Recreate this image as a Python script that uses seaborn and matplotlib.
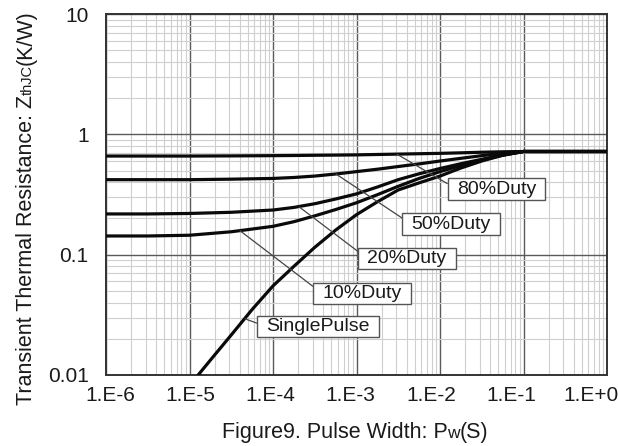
import numpy as np
import pandas as pd
import matplotlib
matplotlib.use("Agg")
import matplotlib.pyplot as plt
import seaborn as sns
from matplotlib.ticker import FixedLocator, LogLocator, NullFormatter
from matplotlib.transforms import ScaledTranslation
from matplotlib.path import Path

# ---------------- data ----------------
pulse_width = [1e-6, 3.16e-6, 1e-5, 3.16e-5, 1e-4, 1.78e-4, 3.16e-4, 5.62e-4,
               1e-3, 1.78e-3, 3.16e-3, 5.62e-3, 1e-2, 1.78e-2, 3.16e-2, 5.62e-2,
               1e-1, 3.16e-1, 1.0]
duty80 = [0.66, 0.66, 0.66, 0.662, 0.665, 0.667, 0.67, 0.672, 0.675, 0.68, 0.685,
          0.69, 0.695, 0.702, 0.71, 0.716, 0.72, 0.72, 0.72]
duty50 = [0.42, 0.42, 0.42, 0.424, 0.43, 0.438, 0.45, 0.468, 0.49, 0.513, 0.54,
          0.568, 0.60, 0.632, 0.665, 0.697, 0.72, 0.72, 0.72]
duty20 = [0.218, 0.218, 0.22, 0.225, 0.235, 0.247, 0.265, 0.29, 0.32, 0.365, 0.42,
          0.47, 0.52, 0.57, 0.62, 0.675, 0.72, 0.72, 0.72]
duty10 = [0.143, 0.143, 0.145, 0.155, 0.172, 0.188, 0.21, 0.237, 0.27, 0.315, 0.37,
          0.43, 0.49, 0.55, 0.61, 0.67, 0.72, 0.72, 0.72]
single_width = [1.27e-5, 1.78e-5, 3.16e-5, 5.62e-5, 1e-4, 1.78e-4, 3.16e-4, 5.62e-4,
                1e-3, 1.78e-3, 3.16e-3, 5.62e-3, 1e-2, 1.78e-2, 3.16e-2, 5.62e-2,
                1e-1, 3.16e-1, 1.0]
single_pulse = [0.01, 0.0133, 0.0215, 0.035, 0.055, 0.08, 0.115, 0.16, 0.215, 0.275,
                0.345, 0.395, 0.45, 0.525, 0.60, 0.67, 0.72, 0.72, 0.72]

series_names = ["80%Duty", "50%Duty", "20%Duty", "10%Duty", "SinglePulse"]

x_tick_values = [1e-6, 1e-5, 1e-4, 1e-3, 1e-2, 1e-1, 1.0]
x_tick_labels = ["1.E-6", "1.E-5", "1.E-4", "1.E-3", "1.E-2", "1.E-1", "1.E+0"]
y_tick_values = [0.01, 0.1, 1, 10]
y_tick_labels = ["0.01", "0.1", "1", "10"]

# ---------------- style ----------------
sns.set_style("white")
plt.rcParams['font.family'] = ['Liberation Sans', 'DejaVu Sans']
TXT = '#1a1a1a'

fig = plt.figure(figsize=(6.18, 4.46), dpi=100)
ax = fig.add_axes([106 / 618, 1 - 375 / 446, 501 / 618, 361 / 446])

frames = []
for name, xs, ys in zip(series_names,
                        [pulse_width] * 4 + [single_width],
                        [duty80, duty50, duty20, duty10, single_pulse]):
    frames.append(pd.DataFrame({"pw": xs, "z": ys, "series": name}))
df = pd.concat(frames, ignore_index=True)

sns.lineplot(data=df, x="pw", y="z", hue="series", hue_order=series_names,
             palette={n: '#0a0a0a' for n in series_names}, estimator=None,
             sort=True, legend=False, linewidth=2.3, ax=ax, zorder=3)

ax.set_xscale('log')
ax.set_yscale('log')
ax.set_xlim(1e-6, 1.0)
ax.set_ylim(0.01, 10)

ax.xaxis.set_major_locator(FixedLocator(x_tick_values))
ax.yaxis.set_major_locator(FixedLocator(y_tick_values))
ax.xaxis.set_minor_locator(LogLocator(base=10, subs=np.arange(2, 10), numticks=20))
ax.yaxis.set_minor_locator(LogLocator(base=10, subs=np.arange(2, 10), numticks=20))
ax.xaxis.set_minor_formatter(NullFormatter())
ax.yaxis.set_minor_formatter(NullFormatter())
ax.set_xticklabels(x_tick_labels)
ax.set_yticklabels(y_tick_labels)
ax.tick_params(axis='both', which='both', length=0, labelsize=15, colors=TXT)
ax.tick_params(axis='x', pad=8)
ax.tick_params(axis='y', pad=12.5)

ax.grid(which='minor', color='#cfcfcf', linewidth=0.8, zorder=0)
ax.grid(which='major', color='#5a5a5a', linewidth=1.0, zorder=1)
ax.set_axisbelow(True)
for sp in ax.spines.values():
    sp.set_color('#333333')
    sp.set_linewidth(1.4)
ax.set_xlabel("")
ax.set_ylabel("")

# tick labels in the reference drift slightly left of their grid lines
label_shift_px = [4.5, 1.1, -2.3, -5.7, -9.1, -12.5, -15.9]
fig.canvas.draw()
for lab, dx in zip(ax.get_xticklabels(), label_shift_px):
    lab.set_transform(lab.get_transform() + ScaledTranslation(dx / 100, 0, fig.dpi_scale_trans))


# ---------------- callouts ----------------
def label_box(x0, y0, width, height, mutation_size):
    px = 0.47 * mutation_size
    py = 0.12 * mutation_size
    verts = [(x0 - px, y0 - py), (x0 + width + px, y0 - py),
             (x0 + width + px, y0 + height + py), (x0 - px, y0 + height + py),
             (x0 - px, y0 - py)]
    codes = [Path.MOVETO, Path.LINETO, Path.LINETO, Path.LINETO, Path.CLOSEPOLY]
    return Path(verts, codes)


callouts = [  # (label, point on curve, box centre)
    ("80%Duty", (3.05e-3, 0.684), (0.0475, 0.350)),
    ("50%Duty", (5.68e-4, 0.468), (0.01355, 0.179)),
    ("20%Duty", (2.05e-4, 0.250), (4.03e-3, 0.0927)),
    ("10%Duty", (4.03e-5, 0.158), (1.164e-3, 0.0475)),
    ("SinglePulse", (4.62e-5, 0.0293), (3.46e-4, 0.02526)),
]
for text, xy, xytext in callouts:
    ax.annotate(text, xy=xy, xytext=xytext, xycoords='data', textcoords='data',
                ha='center', va='center', fontsize=14, color=TXT, zorder=5,
                bbox=dict(boxstyle=label_box, fc='white', ec='#555555', lw=1.0),
                arrowprops=dict(arrowstyle='-', color='#444444', lw=0.9,
                                shrinkA=0, shrinkB=0, relpos=(0, 0.5)),
                annotation_clip=False)

# ---------------- axis titles (with small baseline "subscripts") ----------------
renderer = fig.canvas.get_renderer()
W, H = fig.bbox.width, fig.bbox.height

# y title, rotated
ypos = 1 - 405 / 446
for s, size in [("Transient Thermal Resistance: Z", 15.5), ("thJC", 10.5), ("(K/W)", 15.5)]:
    t = fig.text(31.5 / 618, ypos, s, rotation=90, rotation_mode='anchor',
                 ha='left', va='baseline', fontsize=size, color=TXT)
    bb = t.get_window_extent(renderer)
    ypos += bb.height / H

# x title
xpos = 221.5 / 618
for s, size in [("Figure9. Pulse Width: P", 15.5), ("w", 12.5), ("(S)", 15.5)]:
    t = fig.text(xpos, 1 - 438 / 446, s, ha='left', va='baseline', fontsize=size, color=TXT)
    bb = t.get_window_extent(renderer)
    xpos += bb.width / W

fig.savefig("out.png", dpi=100)
